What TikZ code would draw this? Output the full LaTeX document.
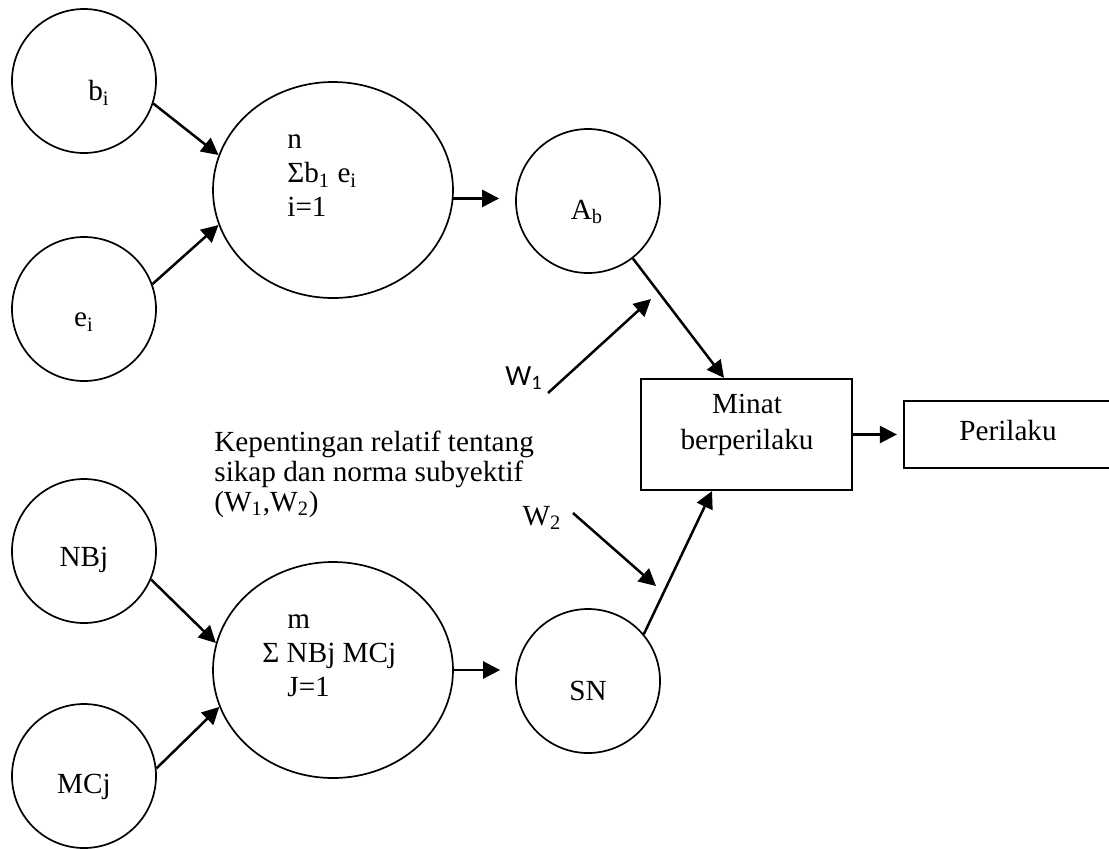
\documentclass[tikz,border=0pt]{standalone}
\usepackage{fontspec}
\setmainfont{Liberation Serif}
\newfontfamily\calib{Carlito}
\usetikzlibrary{shapes.geometric,arrows.meta}
\tikzset{
  circ/.style={circle,draw,line width=0.85pt,minimum size=72pt,inner sep=0pt},
  ell/.style={ellipse,draw,line width=0.85pt,minimum width=120pt,minimum height=108pt,inner sep=0pt},
  rbox/.style={rectangle,draw,line width=1.1pt,inner sep=0pt},
  txt/.style={inner sep=0pt,font=\fontsize{14.6}{15}\selectfont},
  etxt/.style={inner sep=0pt,align=left,font=\fontsize{14.6}{17}\selectfont},
  arr/.style={line width=1.25pt,-{Triangle[length=8.5pt,width=8.5pt]}}
}
\begin{document}
\begin{tikzpicture}[x=0.5pt,y=-0.5pt]
\useasboundingbox (0,0) rectangle (1109,848);
% nodes
\node[circ] (bi) at (84,81) {};
\node[txt] (bit) at (99,93) {b\textsubscript{i}};
\node[circ] (ei) at (84,309) {};
\node[txt] (eit) at (84,322) {e\textsubscript{i}};
\node[ell] (E1) at (333,190) {};
\node[etxt,anchor=west] (E1t) at (287,176) {n\\Σb\textsubscript{1} e\textsubscript{i}\\i=1};
\node[circ] (Ab) at (588,201) {};
\node[txt] (Abt) at (587,212) {A\textsubscript{b}};
\node[circ] (NB) at (84,551) {};
\node[txt] (NBt) at (84,560) {NBj};
\node[circ] (MC) at (84,776) {};
\node[txt] (MCt) at (84,787) {MCj};
\node[ell] (E2) at (333,670) {};
\node[etxt,anchor=west] (E2t) at (262,656) {\hspace{12.5pt}m\\Σ NBj MCj\\\hspace{12.5pt}J=1};
\node[circ] (SN) at (588,681) {};
\node[txt] (SNt) at (588,691) {SN};
\node[rbox,minimum width=105.5pt,minimum height=55.5pt] (Mi) at (746.5,434.5) {};
\node[txt,align=center,font=\fontsize{14.6}{18}\selectfont] (Mit) at (747,425) {Minat\\berperilaku};
\node[rbox,minimum width=106pt,minimum height=33.5pt] (Pe) at (1010,434.5) {};
\node[txt] (Pet) at (1008,430) {Perilaku};
\node[txt,align=left,anchor=west] (Kt) at (214,474) {Kepentingan relatif tentang\\sikap dan norma subyektif\\(W\textsubscript{1},W\textsubscript{2})};
\node[inner sep=0pt,font=\calib\fontsize{14.6}{14}\selectfont] (W1t) at (524,378) {W\textsubscript{1}};
\node[txt] (W2t) at (542,518) {W\textsubscript{2}};
\coordinate (w1s) at (548,393);
\coordinate (w1e) at (651,299);
\coordinate (w2s) at (573,513);
\coordinate (w2e) at (656,586);
% connectors
\draw[arr] (bi.-18) -- (E1.163);
\draw[arr] (ei.20) -- (E1.197);
\draw[arr,shorten >=8pt] (E1.-4) -- (Ab.west |- E1.-4);
\draw[arr] (NB.-23) -- (E2.167);
\draw[arr] (MC.6) -- (E2.198);
\draw[arr,shorten >=7.5pt] (E2.east) -- (SN.west |- E2.east);
\draw[arr] (Ab.-52) -- ([xshift=-11.25pt]Mi.north);
\draw[arr] (SN.40) -- ([xshift=-17.25pt]Mi.south);
\draw[arr,shorten >=3pt] (Mi.east) -- (Pe.west);
\draw[arr] (w1s) -- (w1e);
\draw[arr] (w2s) -- (w2e);
\end{tikzpicture}
\end{document}
